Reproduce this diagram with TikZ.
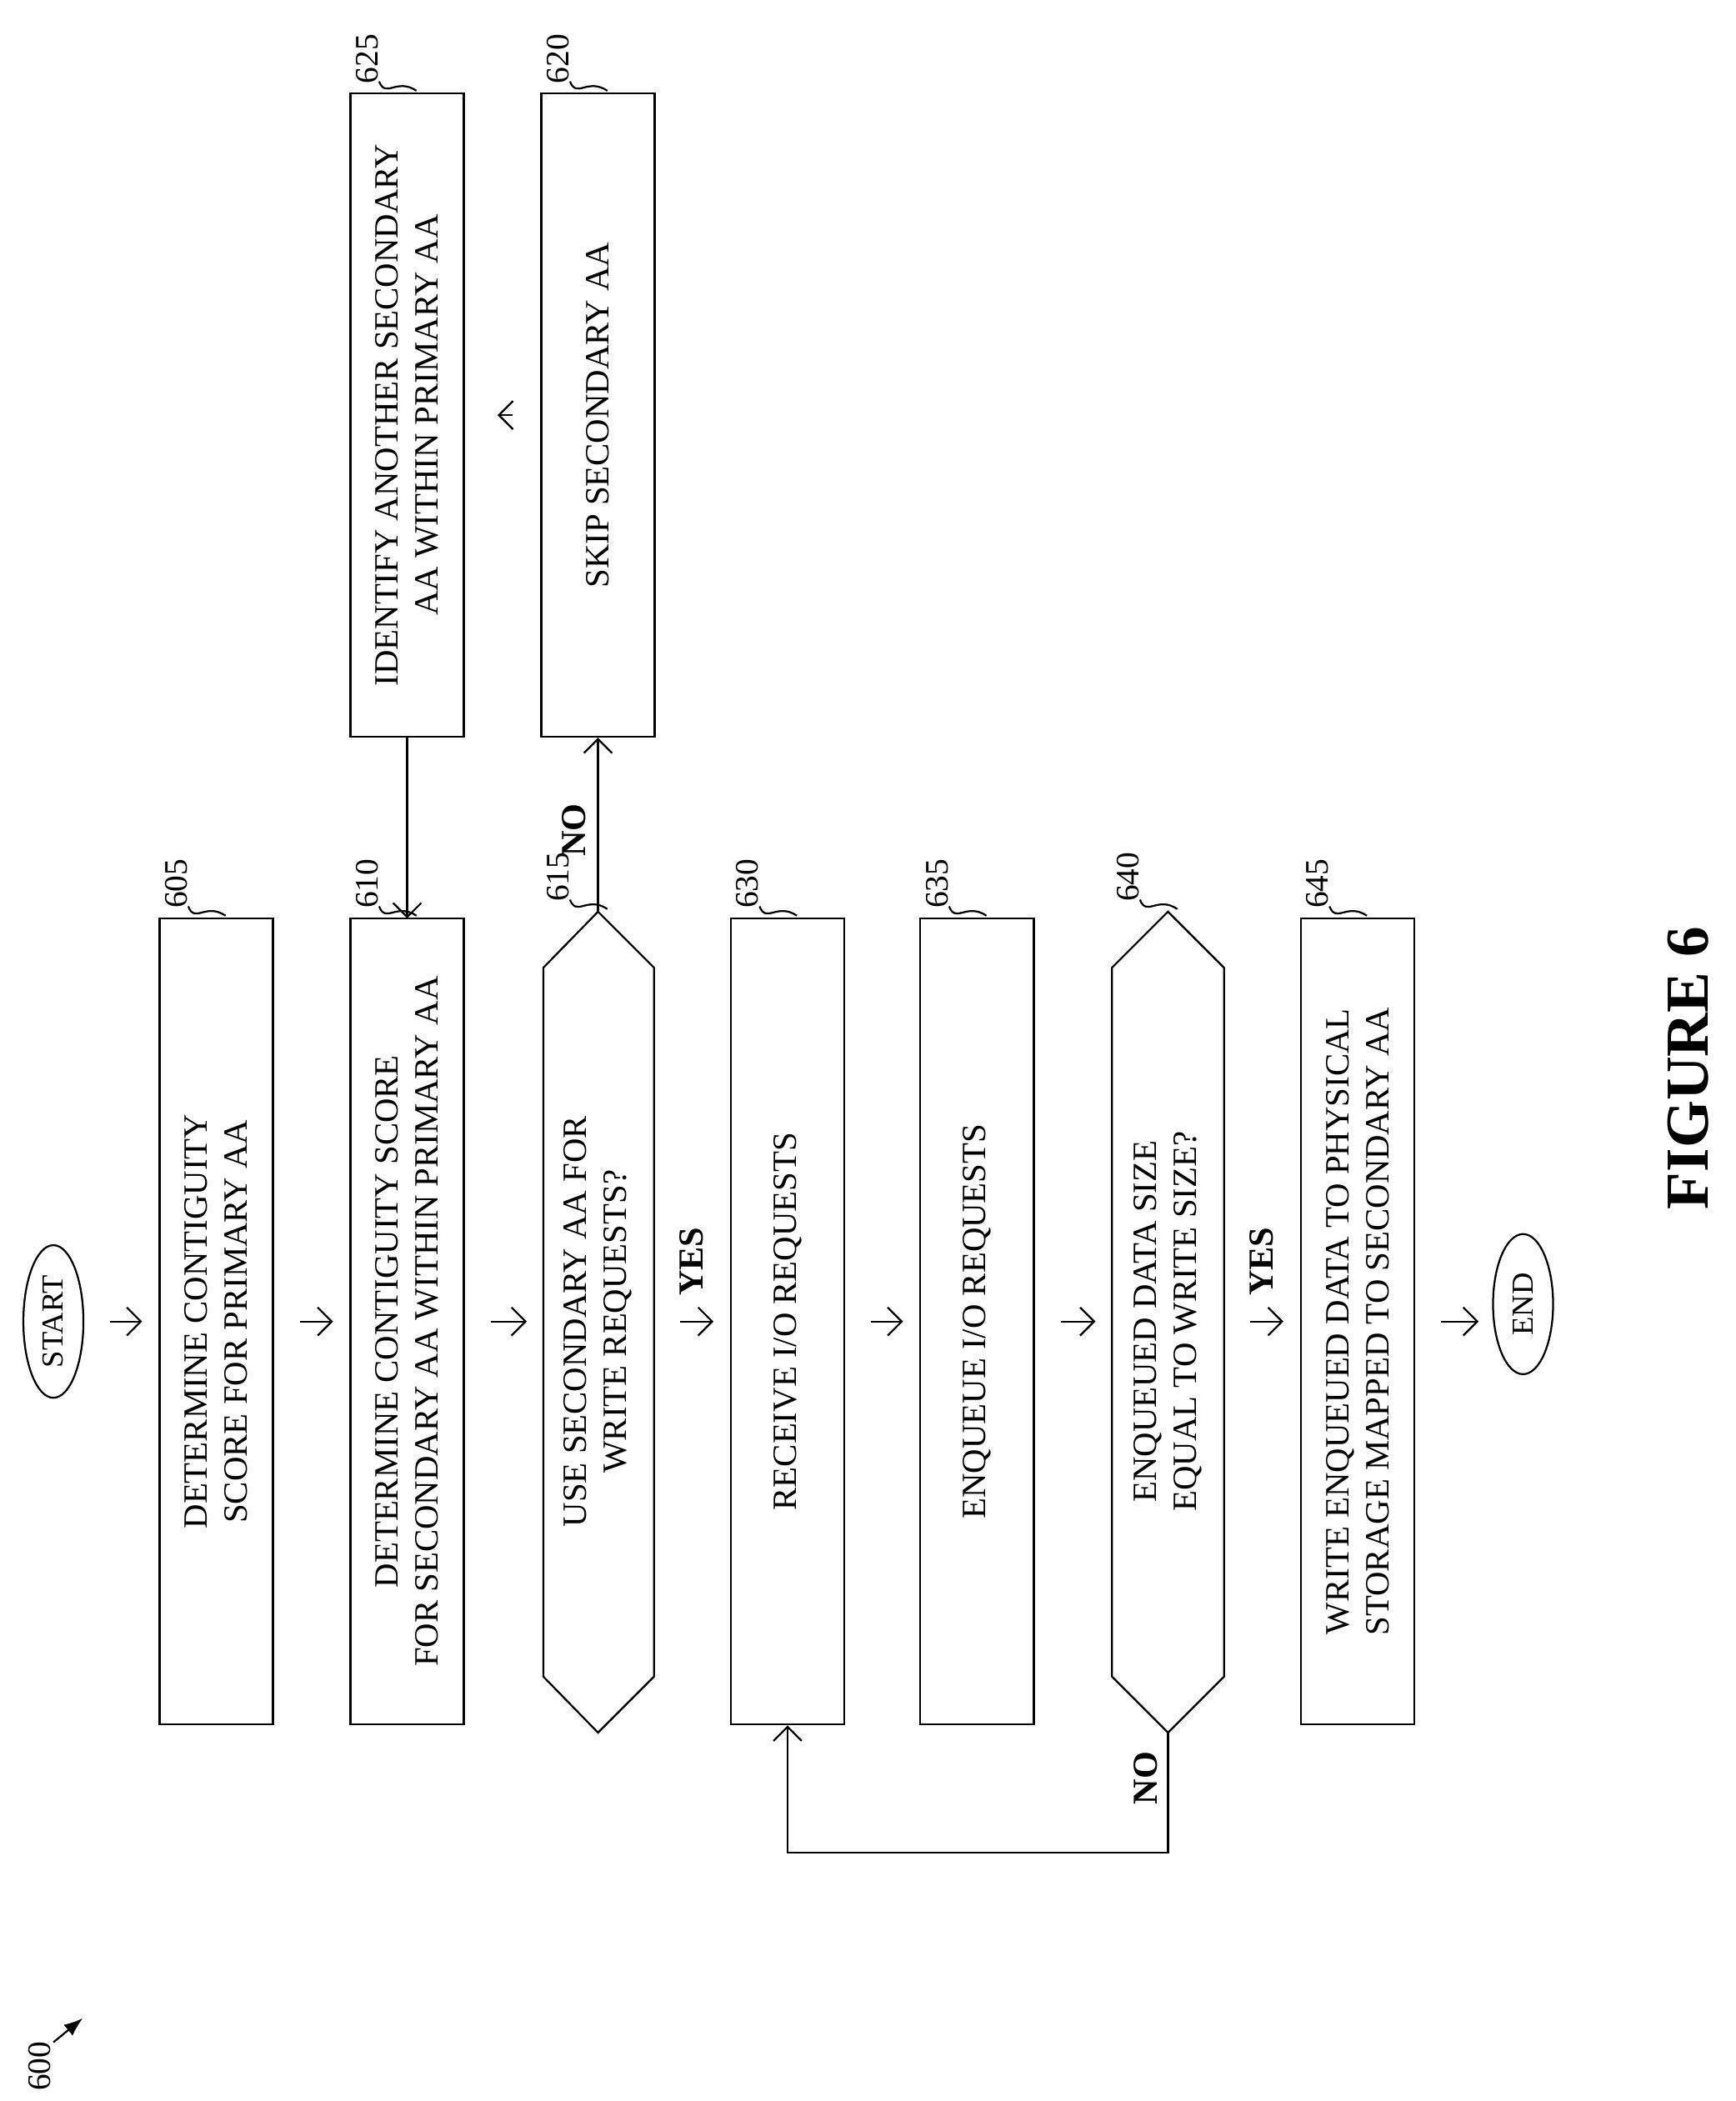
\documentclass[tikz,border=0pt]{standalone}
\usepackage{fontspec}
\setmainfont{Liberation Serif}
\usetikzlibrary{arrows.meta,shapes.geometric}
\tikzset{
  box/.style={draw, thick, rotate=90, minimum width=12.08cm, minimum height=1.7cm, align=center, font=\fontsize{14.5}{17}\selectfont},
  tbox/.style={box, draw=none},
  term/.style={draw, thick, ellipse, rotate=90, minimum width=2.1cm, minimum height=0.9cm, font=\fontsize{13}{15}\selectfont},
  flow/.style={thick, -{Straight Barb[length=6pt,width=12pt]}},
  gap/.style={flow, shorten <=11pt, shorten >=7pt},
  tag/.style={rotate=90, font=\fontsize{14}{16}\selectfont},
  lbl/.style={rotate=90, font=\bfseries\fontsize{15}{18}\selectfont}
}
\newcommand{\reftag}[3]{% x, y, text
  \node[tag] at (#1,#2) {#3};
  \draw[thick] (#1+9,#2+17) .. controls (#1+14,#2+30) and (#1+22,#2+14) .. (#1+37,#2+24);
}
\begin{document}
\begin{tikzpicture}[x=0.02cm, y=-0.02cm]
\useasboundingbox (0,0) rectangle (1300,1574);
% terminals
\node[term] (start) at (40,990) {START};
\node[term] (end) at (1141,977) {END};
% main column
\node[box] (b605) at (162,990) {DETERMINE CONTIGUITY\\SCORE FOR PRIMARY AA};
\node[box] (b610) at (305,990) {DETERMINE CONTIGUITY SCORE\\FOR SECONDARY AA WITHIN PRIMARY AA};
\node[tbox] (b615) at (448,990) {USE SECONDARY AA FOR\\WRITE REQUESTS?};
\draw[thick] (407,683+42) -- (407,1298-42) -- (448,1298) -- (490,1298-42) -- (490,683+42) -- (448,683) -- cycle;
\node[box] (b630) at (590,990) {RECEIVE I/O REQUESTS};
\node[box] (b635) at (732,990) {ENQUEUE I/O REQUESTS};
\node[tbox] (b640) at (875,990) {ENQUEUED DATA SIZE\\EQUAL TO WRITE SIZE?};
\draw[thick] (833,683+42) -- (833,1298-42) -- (875,1298) -- (917,1298-42) -- (917,683+42) -- (875,683) -- cycle;
\node[box] (b645) at (1017,990) {WRITE ENQUEUED DATA TO PHYSICAL\\STORAGE MAPPED TO SECONDARY AA};
% side column
\node[box, minimum width=9.64cm] (b625) at (305,311) {IDENTIFY ANOTHER SECONDARY\\AA WITHIN PRIMARY AA};
\node[box, minimum width=9.64cm] (b620) at (448,311) {SKIP SECONDARY AA};
% connectors
\draw[gap] (start) -- (b605);
\draw[gap] (b605) -- (b610);
\draw[gap] (b610) -- (407,990);
\draw[gap] (490,990) -- (b630);
\node[lbl] at (518,945) {YES};
\draw[gap] (b630) -- (b635);
\draw[gap] (b635) -- (833,990);
\draw[gap] (917,990) -- (b645);
\node[lbl] at (945,945) {YES};
\draw[gap] (1060,990) -- (1120,990);
\draw[flow] (b625) -- (305,688);
\draw[flow] (448,683) -- (b620);
\node[lbl] at (430,622) {NO};
\draw[flow, shorten >=14pt, shorten <=12pt] (b620) -- (b625);
\draw[flow] (875,1298) -- (875,1388) -- (590,1388) -- (b630);
\node[lbl] at (858,1332) {NO};
% reference numerals
\reftag{132}{662}{605}
\reftag{275}{662}{610}
\reftag{418}{657}{615}
\reftag{560}{662}{630}
\reftag{702}{662}{635}
\reftag{845}{657}{640}
\reftag{987}{662}{645}
\reftag{275}{44}{625}
\reftag{418}{44}{620}
\node[tag] (n600) at (30,1548) {600};
\draw[thick, -{Latex[length=8pt]}] (40,1530) -- (62,1512);
\node[rotate=90, font=\bfseries\fontsize{26}{30}\selectfont] (fig) at (1265,800) {FIGURE 6};
\end{tikzpicture}
\end{document}
